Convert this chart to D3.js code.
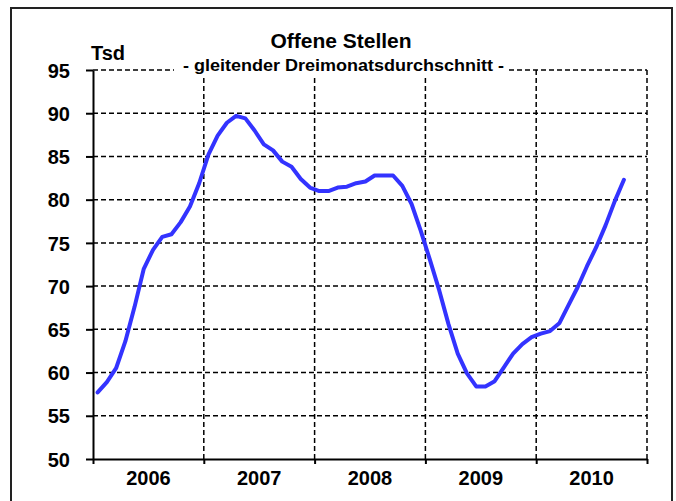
<!DOCTYPE html>
<head>
  <meta charset="utf-8">
  <script src="https://d3js.org/d3.v7.min.js"></script>
  <style>
    body {
      margin: 0;
      background: #fff;
      font-family: "Liberation Sans", Arial, sans-serif;
      font-weight: bold;
    }
    .frame {
      fill: none;
      stroke: #222;
      stroke-width: 2;
    }
    .grid line {
      stroke: #000;
      stroke-width: 1.5;
      stroke-dasharray: 5,3;
    }
    .axis path, .axis line {
      stroke: #000;
      stroke-width: 2;
    }
    .axis text {
      font-family: "Liberation Sans", Arial, sans-serif;
      font-weight: bold;
      font-size: 20px;
      fill: #000;
    }
    .series {
      fill: none;
      stroke: #3333ff;
      stroke-width: 4;
      stroke-linejoin: round;
      stroke-linecap: round;
    }
  </style>
</head>

<body>
  <div id="chart"></div>

  <script>
    // monthly values, Jan 2006 .. Oct 2010 (Tsd)
    var years = ["2006", "2007", "2008", "2009", "2010"];
    var yTicks = [50, 55, 60, 65, 70, 75, 80, 85, 90, 95];
    var values = [
      57.7, 58.9, 60.5, 63.6, 67.6, 72.0, 74.2, 75.7, 76.0, 77.4, 79.2, 81.9,
      85.2, 87.4, 88.9, 89.7, 89.4, 88.0, 86.4, 85.7, 84.4, 83.8, 82.4, 81.4,
      81.0, 81.0, 81.4, 81.5, 81.9, 82.1, 82.8, 82.8, 82.8, 81.6, 79.5, 76.4,
      73.0, 69.5, 65.6, 62.2, 59.9, 58.4, 58.4, 59.0, 60.6, 62.2, 63.3, 64.1,
      64.5, 64.8, 65.7, 67.8, 69.9, 72.3, 74.5, 77.0, 79.8, 82.3
    ];

    var width = 676,
        height = 501,
        plotLeft = 93, plotRight = 647, plotTop = 70, plotBottom = 459;

    var svg = d3.select("#chart").append("svg")
      .attr("width", width)
      .attr("height", height);

    svg.append("rect")
      .attr("class", "frame")
      .attr("x", 11).attr("y", 8)
      .attr("width", 661).attr("height", 520);

    var x = d3.scaleLinear()
      .domain([0, years.length * 12])
      .range([plotLeft, plotRight]);
    var xYear = d3.scaleBand()
      .domain(years)
      .range([plotLeft, plotRight]);
    var y = d3.scaleLinear()
      .domain([50, 95])
      .range([plotBottom, plotTop]);

    // dashed grid
    var grid = svg.append("g").attr("class", "grid");
    grid.selectAll(".h")
        .data(yTicks.filter(function(d) { return d > 50; }))
      .enter().append("line")
        .attr("x1", plotLeft).attr("x2", plotRight)
        .attr("y1", function(d) { return y(d); })
        .attr("y2", function(d) { return y(d); });
    grid.selectAll(".v")
        .data(d3.range(1, years.length + 1))
      .enter().append("line")
        .attr("x1", function(d) { return x(d * 12); })
        .attr("x2", function(d) { return x(d * 12); })
        .attr("y1", plotTop).attr("y2", plotBottom);

    // axes
    svg.append("g")
      .attr("class", "axis")
      .attr("transform", "translate(0," + plotBottom + ")")
      .call(d3.axisBottom(x)
        .tickValues(d3.range(0, years.length * 12 + 1, 12))
        .tickSize(5)
        .tickSizeOuter(0)
        .tickFormat(""));
    svg.append("g")
      .attr("class", "axis")
      .attr("transform", "translate(0," + plotBottom + ")")
      .call(d3.axisBottom(xYear).tickSize(0).tickPadding(12))
      .call(function(g) { g.select(".domain").remove(); });
    svg.append("g")
      .attr("class", "axis")
      .attr("transform", "translate(" + plotLeft + ",0)")
      .call(d3.axisLeft(y)
        .tickValues(yTicks)
        .tickSize(7)
        .tickSizeOuter(0)
        .tickPadding(16))
      .call(function(g) { g.selectAll("text").attr("dy", "0.36em"); });

    // line
    var line = d3.line()
      .x(function(d, i) { return x(i + 0.5); })
      .y(function(d) { return y(d); });
    svg.append("path")
      .datum(values)
      .attr("class", "series")
      .attr("d", line);

    // titles
    svg.append("rect")
      .attr("x", 174).attr("y", 55)
      .attr("width", 334).attr("height", 22)
      .attr("fill", "#fff");
    svg.append("text")
      .attr("x", 341).attr("y", 48)
      .attr("text-anchor", "middle")
      .style("font-size", "21px")
      .text("Offene Stellen");
    svg.append("text")
      .attr("x", 183).attr("y", 71)
      .attr("textLength", 321)
      .attr("lengthAdjust", "spacingAndGlyphs")
      .style("font-size", "16px")
      .text("- gleitender Dreimonatsdurchschnitt -");
    svg.append("text")
      .attr("x", 91).attr("y", 60)
      .style("font-size", "20px")
      .text("Tsd");
  </script>
</body>
